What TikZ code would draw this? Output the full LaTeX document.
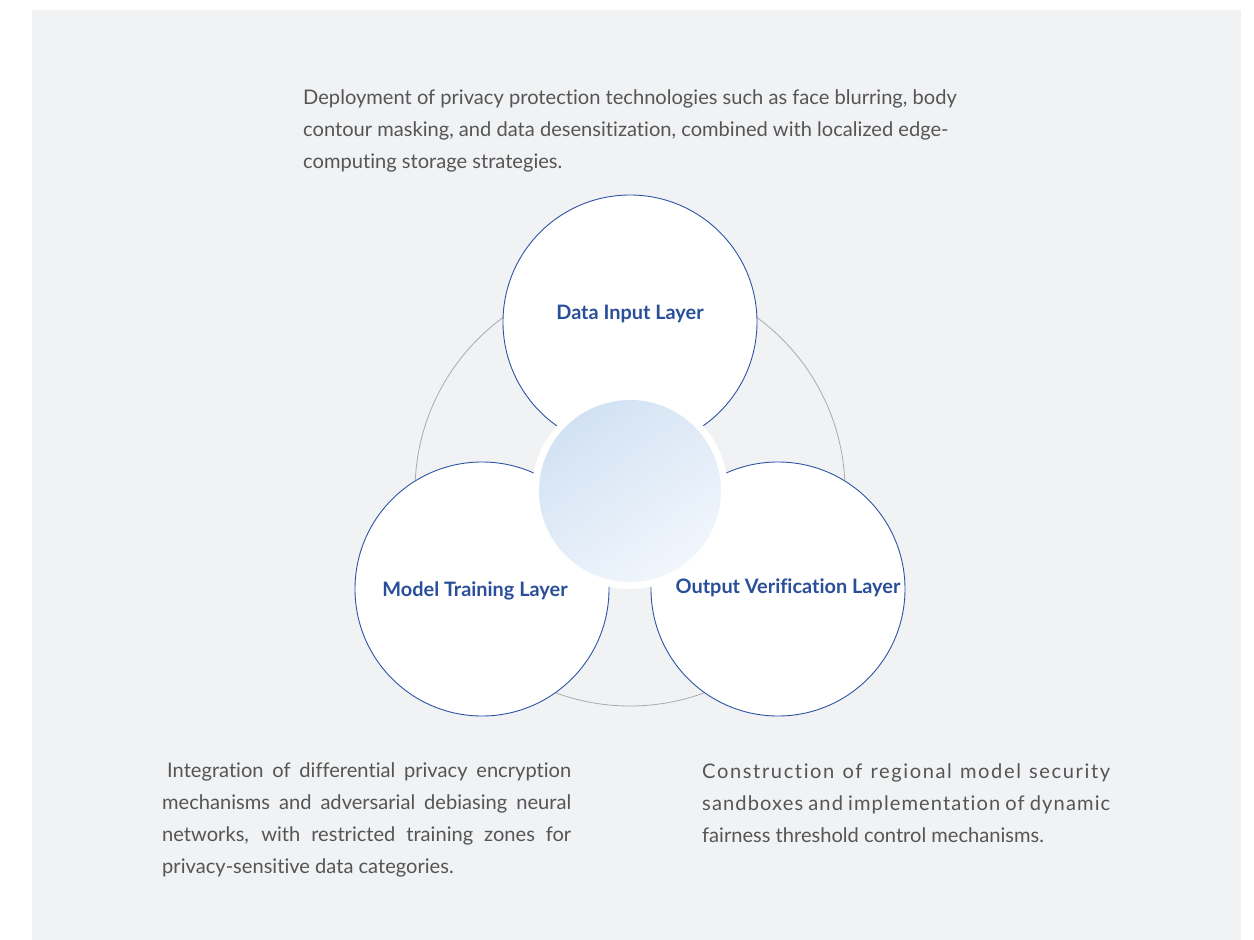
\documentclass[tikz,border=0pt]{standalone}
\usepackage{fontspec}
\setmainfont{Lato}[Ligatures=NoCommon]
\definecolor{panel}{HTML}{F1F2F4}
\definecolor{ringblue}{HTML}{2E55A5}
\definecolor{labelblue}{HTML}{2A4F9A}
\definecolor{txtgray}{HTML}{555555}
\definecolor{orbit}{HTML}{AAAAAA}
\definecolor{coreA}{HTML}{D2E2F3}
\definecolor{coreB}{HTML}{F1F6FC}
\tikzset{
  layer/.style={circle, draw=ringblue, line width=0.9pt, fill=white, minimum size=254pt, inner sep=0pt},
  layerlabel/.style={font=\fontsize{19.9}{22}\selectfont\bfseries, text=labelblue, inner sep=0pt},
  desc/.style={font=\fontsize{20.1}{24}\selectfont, text=txtgray, inner sep=0pt, anchor=base west},
}
\begin{document}
\begin{tikzpicture}[x=1pt,y=-1pt]
\useasboundingbox (0,0) rectangle (1254,940);
\fill[white] (0,0) rectangle (1254,940);
\fill[panel] (32,10) rectangle (1241,940);
% orbit
\node[circle, draw=orbit, line width=0.8pt, minimum size=430pt, inner sep=0pt] (orbit) at (630,491) {};
% layers
\node[layer] (top) at (630,322) {};
\node[layer] (left) at (482,589) {};
\node[layer] (right) at (778,589) {};
% core
\node[circle, fill=white, minimum size=196pt, inner sep=0pt] (ring) at (630,491) {};
\node[circle, minimum size=182pt, inner sep=0pt, top color=coreA, bottom color=coreB, shading angle=35] (core) at (630,491) {};
% labels
\node[layerlabel] (ltop) at (630,314) {Data Input Layer};
\node[layerlabel] (lleft) at (475,591) {Model Training Layer};
\node[layerlabel] (lright) at (788,588) {Output Verification Layer};
% top description
\node[desc] (dtop1) at (303,104) {Deployment of privacy protection technologies such as face blurring, body};
\node[desc] (dtop2) at (303,136) {contour masking, and data desensitization, combined with localized edge-};
\node[desc] (dtop3) at (303,168) {computing storage strategies.};
% left description
\node[desc] (dleft1) at (162,777) {\makebox[409pt][s]{\hspace{5pt}Integration of differential privacy encryption}};
\node[desc] (dleft2) at (162,809) {\makebox[409pt][s]{mechanisms and adversarial debiasing neural}};
\node[desc] (dleft3) at (162,841) {\makebox[409pt][s]{networks, with restricted training zones for}};
\node[desc] (dleft4) at (162,873) {privacy-sensitive data categories.};
% right description
\node[desc] (dright1) at (702,778) {\addfontfeature{LetterSpace=8}\makebox[408pt][s]{Construction of regional model security}};
\node[desc] (dright2) at (702,810) {\addfontfeature{LetterSpace=5.5}\makebox[408pt][s]{sandboxes and implementation of dynamic}};
\node[desc] (dright3) at (702,842) {fairness threshold control mechanisms.};
\end{tikzpicture}
\end{document}
